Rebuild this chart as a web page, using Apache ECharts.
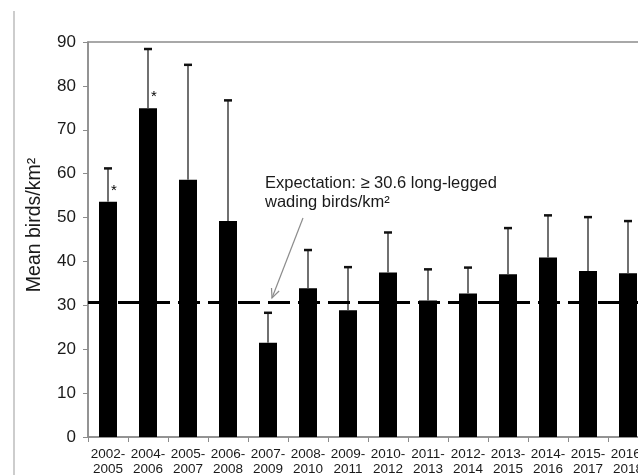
<!DOCTYPE html>
<html>
<head>
<meta charset="utf-8">
<script src="https://cdn.jsdelivr.net/npm/echarts@6/dist/echarts.min.js"></script>
<style>
html,body{margin:0;padding:0;background:#fff;}
#c{width:638px;height:475px;}
</style>
</head>
<body>
<div id="c"></div>
<script>
const categories = ['2002-2005','2004-2006','2005-2007','2006-2008','2007-2009','2008-2010','2009-2011','2010-2012','2011-2013','2012-2014','2013-2015','2014-2016','2015-2017','2016-2018'];
const means = [53.6, 74.9, 58.6, 49.2, 21.5, 33.9, 28.9, 37.5, 31.1, 32.7, 37.1, 40.9, 37.8, 37.3];
const upperErr = [61.2, 88.4, 84.8, 76.7, 28.3, 42.6, 38.7, 46.6, 38.2, 38.6, 47.6, 50.5, 50.1, 49.2];
const significant = ['2002-2005', '2004-2006'];
const expectation = 30.6;
const yMin = 0, yMax = 90, yStep = 10;
const annotationText = 'Expectation: \u2265 30.6 long-legged\nwading birds/km\u00b2';
const yAxisTitle = 'Mean birds/km\u00b2';

const FONT = 'Liberation Sans, Arial, sans-serif';
const chart = echarts.init(document.getElementById('c'));

// arrow geometry (annotation only)
const ax0 = 303, ay0 = 218, ax1 = 272, ay1 = 298;
const ang = Math.atan2(ay1 - ay0, ax1 - ax0);
const headLen = 10, headAng = 0.42;
const h1 = [ax1 - headLen * Math.cos(ang - headAng), ay1 - headLen * Math.sin(ang - headAng)];
const h2 = [ax1 - headLen * Math.cos(ang + headAng), ay1 - headLen * Math.sin(ang + headAng)];

chart.setOption({
  animation: false,
  backgroundColor: '#fff',
  grid: {left: 88, top: 42, width: 560, height: 395, outerBoundsMode: 'none', containLabel: false,
         show: true, borderColor: '#8c8c8c', borderWidth: 1.5, backgroundColor: 'transparent'},
  xAxis: {
    type: 'category',
    data: categories,
    axisLine: {lineStyle: {color: '#8c8c8c', width: 1.5}},
    axisTick: {show: true, alignWithLabel: false, length: 5, lineStyle: {color: '#8c8c8c'}},
    axisLabel: {
      interval: 0, margin: 10, color: '#1a1a1a', fontFamily: FONT, fontSize: 13.5, lineHeight: 15,
      formatter: v => v.replace('-', '-\n')
    }
  },
  yAxis: {
    type: 'value', min: yMin, max: yMax, interval: yStep,
    splitLine: {show: false},
    axisLine: {show: true, lineStyle: {color: '#8c8c8c', width: 1.5}},
    axisTick: {show: true, length: 5, lineStyle: {color: '#8c8c8c'}},
    axisLabel: {margin: 12, color: '#1a1a1a', fontFamily: FONT, fontSize: 17}
  },
  series: [
    {
      type: 'bar',
      data: means,
      barWidth: 18,
      itemStyle: {color: '#000'},
      markLine: {
        silent: true,
        symbol: ['none', 'none'],
        label: {show: false},
        lineStyle: {color: '#000', width: 3, type: [22, 8]},
        data: [{yAxis: expectation}]
      },
      z: 2
    },
    {
      type: 'custom',
      data: categories.map((c, i) => [i, means[i], upperErr[i]]),
      renderItem: function (params, api) {
        const b = api.coord([api.value(0), api.value(1)]);
        const t = api.coord([api.value(0), api.value(2)]);
        return {
          type: 'group',
          children: [
            {type: 'line', shape: {x1: b[0], y1: b[1], x2: t[0], y2: t[1]}, style: {stroke: '#4d4d4d', lineWidth: 1.6}},
            {type: 'line', shape: {x1: t[0] - 4, y1: t[1], x2: t[0] + 4, y2: t[1]}, style: {stroke: '#111', lineWidth: 2.5}}
          ]
        };
      },
      z: 3
    },
    {
      type: 'custom',
      data: categories.map((c, i) => [i, means[i], significant.indexOf(c) >= 0 ? 1 : 0]),
      renderItem: function (params, api) {
        if (!api.value(2)) return null;
        const b = api.coord([api.value(0), api.value(1)]);
        return {
          type: 'text',
          style: {x: b[0] + 3, y: b[1] - 11, text: '*', fill: '#000', font: '15px ' + FONT, textAlign: 'left', textVerticalAlign: 'middle'}
        };
      },
      z: 4
    }
  ],
  graphic: [
    {type: 'line', shape: {x1: 14, y1: 11, x2: 14, y2: 475}, style: {stroke: '#bdbdbd', lineWidth: 1.5}},
    {type: 'text', x: 35, y: 225, rotation: Math.PI / 2,
     style: {text: yAxisTitle, font: '19.5px ' + FONT, fill: '#1a1a1a', textAlign: 'center', textVerticalAlign: 'middle'}},
    {type: 'text', left: 265, top: 174, style: {text: annotationText, font: '16.5px ' + FONT, fill: '#1a1a1a', lineHeight: 19}},
    {type: 'line', shape: {x1: ax0, y1: ay0, x2: ax1, y2: ay1}, style: {stroke: '#8c8c8c', lineWidth: 1.2}},
    {type: 'polyline', shape: {points: [h1, [ax1, ay1], h2]}, style: {stroke: '#8c8c8c', lineWidth: 1.2, fill: null}}
  ]
});
</script>
</body>
</html>
